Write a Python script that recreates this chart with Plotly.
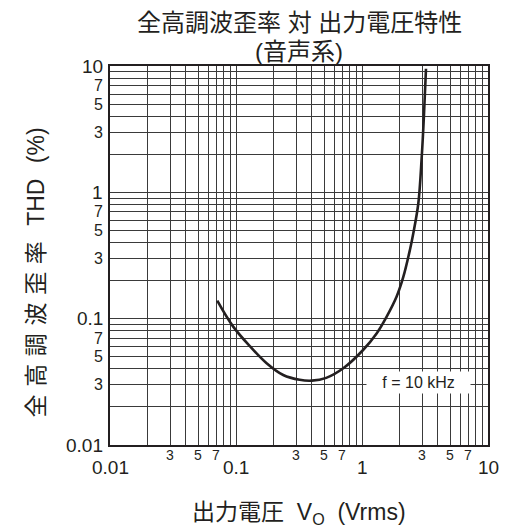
import numpy as np
import plotly.graph_objects as go

# ---- data ----
vo = [0.071, 0.095, 0.13, 0.175, 0.237, 0.32, 0.40, 0.52, 0.71, 1.02, 1.31, 1.57, 1.88, 2.13, 2.40, 2.55, 2.8, 2.98, 3.1, 3.22]
thd = [0.139, 0.0865, 0.060, 0.0444, 0.0358, 0.0328, 0.0323, 0.0340, 0.0405, 0.0565, 0.0766, 0.1037, 0.149, 0.215, 0.35, 0.47, 0.82, 1.92, 4.0, 9.5]

x_major_labels = [0.01, 0.1, 1, 10]
x_major_text = ["0.01", "0.1", "1", "10"]
y_major_labels = [0.01, 0.1, 1, 10]
y_major_text = ["0.01", "0.1", "1", "10"]
minor_digits = [3, 5, 7]
decades = [0.01, 0.1, 1]
grid_digits = [2, 3, 4, 5, 6, 7, 8, 9]

title_line1 = "全高調波歪率 対 出力電圧特性"
title_line2 = "(音声系)"
x_title = "出力電圧&nbsp;&nbsp;V<sub>O</sub>&nbsp;&nbsp;(Vrms)"
y_title_cjk = "全高調波歪率"
y_title_rest = "THD\u2004\u2004(%)"
curve_label = "f = 10 kHz"
curve_label_pos = (2.83, 0.031)

FONT = "Liberation Sans, Arial, Noto Sans CJK JP, sans-serif"
INK = "#231f20"

grid_vals = [d * k for d in decades for k in [1] + grid_digits] + [10]

fig = go.Figure()
fig.add_trace(go.Scatter(
    x=vo, y=thd, mode="lines",
    line=dict(color=INK, width=2.6, shape="spline", smoothing=1.0),
    showlegend=False, hoverinfo="skip",
))

axis_common = dict(
    type="log", range=[-2, 1], tickvals=grid_vals, showticklabels=False,
    showgrid=True, gridcolor="#3a3a3a", gridwidth=1, zeroline=False,
    showline=True, linecolor=INK, linewidth=2, mirror=True, ticks="",
)
fig.update_xaxes(**axis_common)
fig.update_yaxes(**axis_common)

ann = []
for v, t in zip(x_major_labels, x_major_text):
    ann.append(dict(x=np.log10(v), y=0, xref="x", yref="paper", text=t,
                    showarrow=False, yanchor="middle", yshift=-22,
                    font=dict(size=19, color=INK, family=FONT)))
for d in decades:
    for k in minor_digits:
        ann.append(dict(x=np.log10(d * k), y=0, xref="x", yref="paper", text=str(k),
                        showarrow=False, yanchor="middle", yshift=-10,
                        font=dict(size=14, color=INK, family=FONT)))
for v, t in zip(y_major_labels, y_major_text):
    ann.append(dict(x=0, y=np.log10(v), xref="paper", yref="y", text=t,
                    showarrow=False, xanchor="right", xshift=-5,
                    font=dict(size=19, color=INK, family=FONT)))
for d in decades:
    for k in minor_digits:
        ann.append(dict(x=0, y=np.log10(d * k), xref="paper", yref="y", text=str(k),
                        showarrow=False, xanchor="right", xshift=-5,
                        font=dict(size=16, color=INK, family=FONT)))
ann.append(dict(x=np.log10(curve_label_pos[0]), y=np.log10(curve_label_pos[1]),
                xref="x", yref="y",
                text="\u00a0\u00a0\u00a0" + curve_label + "\u00a0\u00a0\u00a0",
                showarrow=False, bgcolor="white", borderpad=2,
                font=dict(size=16, color=INK, family=FONT)))
ann.append(dict(x=0.5, y=1, xref="paper", yref="paper", text=title_line1,
                showarrow=False, yanchor="middle", yshift=44,
                font=dict(size=24, color=INK, family=FONT)))
ann.append(dict(x=0.5, y=1, xref="paper", yref="paper", text=title_line2,
                showarrow=False, yanchor="middle", yshift=15,
                font=dict(size=24, color=INK, family=FONT)))
ann.append(dict(x=0.5, y=0, xref="paper", yref="paper", text=x_title,
                showarrow=False, yanchor="middle", yshift=-68,
                font=dict(size=23, color=INK, family=FONT)))
y_title = "\u2004".join(y_title_cjk) + "\u2004\u2004" + y_title_rest
ann.append(dict(x=0, y=0.5, xref="paper", yref="paper", text=y_title,
                showarrow=False, xanchor="center", yanchor="middle",
                xshift=-75, yshift=-17, textangle=-90,
                font=dict(size=23, color=INK, family=FONT)))

fig.update_layout(
    width=499, height=523,
    margin=dict(l=102, r=19, t=58, b=86),
    paper_bgcolor="white", plot_bgcolor="white",
    annotations=ann,
    font=dict(family=FONT, color=INK),
)

fig.write_html("out.html")
